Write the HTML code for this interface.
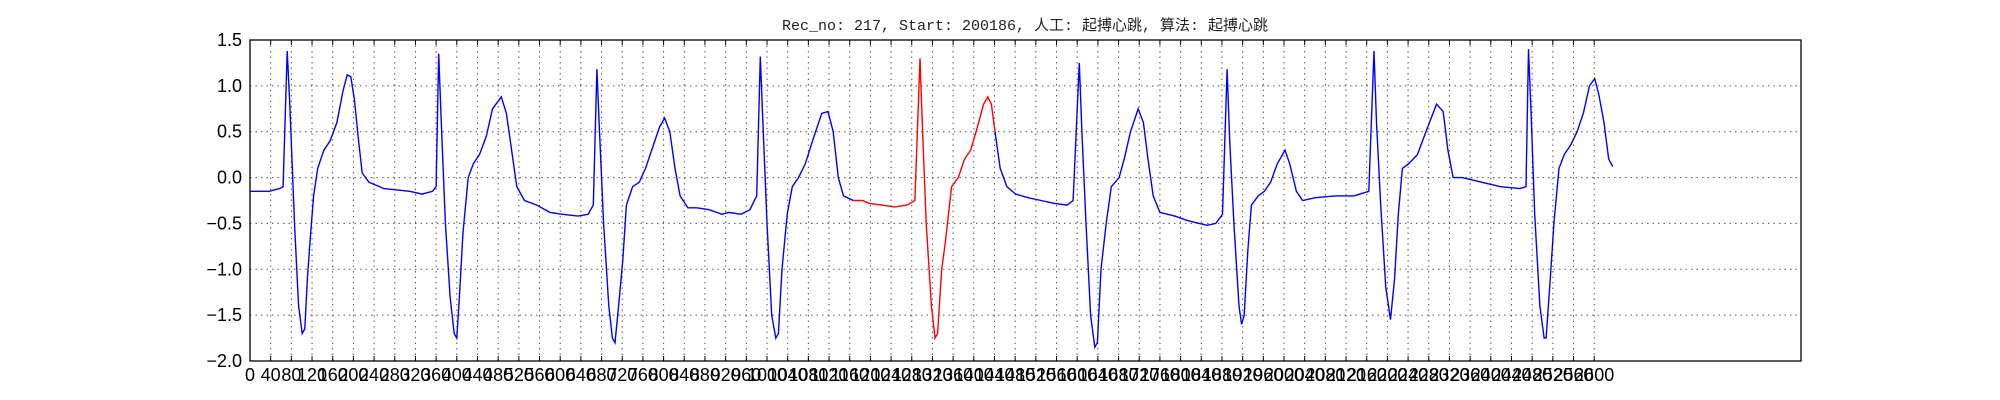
<!DOCTYPE html>
<html><head><meta charset="utf-8"><style>
html,body{margin:0;padding:0;background:#fff;}
svg{display:block;}
</style></head><body>
<svg id="chart" width="2000" height="400" xmlns="http://www.w3.org/2000/svg">
<text x="1025" y="30" text-anchor="middle" font-family="'Liberation Mono','Noto Sans CJK SC',monospace" font-size="15" fill="#222">Rec_no: 217, Start: 200186, 人工: 起搏心跳, 算法: 起搏心跳</text>
<g id="grid"></g>
<g id="series"></g>
<rect x="250" y="40" width="1551" height="321" fill="none" stroke="#000" stroke-width="1.3"/>
<g id="ticks"></g>
</svg>
<script>
const xTicks = Array.from({length:66}, (_, i) => i*40);
const yTicks = [1.5, 1.0, 0.5, 0.0, -0.5, -1.0, -1.5, -2.0];
const yTickLabels = ["1.5","1.0","0.5","0.0","\u22120.5","\u22121.0","\u22121.5","\u22122.0"];
const pos = [195,210,218,221,224,226,230,233,236,238,240,242,245,248,253,258,263,268,271,274,277,280,283,288,300,320,330,338,341,343,345,348,352,355,357,359,362,366,370,375,380,385,392,396,400,404,410,420,430,440,452,460,464,467,469,472,476,479,481,484,487,490,495,500,505,510,516,520,524,528,532,538,545,555,565,570,580,587,592,595,597,600,604,607,609,612,616,620,625,630,636,643,648,652,656,660,668,675,680,690,700,710,716,720,722,725,729,732,734,737,740,745,750,755,760,765,770,773,776,779,783,788,795,805,815,825,835,840,845,847,850,854,857,859,862,866,870,876,880,885,891,895,899,903,908,920,930,945,952,957,961,963,966,970,972,974,977,980,985,990,995,1000,1006,1010,1015,1020,1030,1045,1060,1072,1076,1078,1081,1085,1089,1092,1095,1098,1103,1110,1118,1125,1130,1134,1138,1145,1160,1175,1190,1195,1197,1199,1202,1206,1209,1211,1214,1217,1221,1225,1230,1235,1240,1245,1249,1252,1256,1260,1263];
const samples = pos.map(p => Math.round((p-195)*2.468));
const values = [-0.15,-0.15,-0.12,-0.1,1.38,0.8,-0.5,-1.4,-1.7,-1.65,-1.1,-0.7,-0.2,0.1,0.3,0.4,0.6,0.95,1.12,1.1,0.85,0.4,0.05,-0.05,-0.12,-0.15,-0.18,-0.15,-0.1,1.35,0.6,-0.5,-1.3,-1.7,-1.75,-1.3,-0.6,0.0,0.15,0.25,0.45,0.75,0.88,0.7,0.3,-0.1,-0.25,-0.3,-0.38,-0.4,-0.42,-0.4,-0.3,1.18,0.5,-0.5,-1.4,-1.75,-1.8,-1.4,-0.9,-0.3,-0.1,-0.05,0.1,0.3,0.55,0.65,0.5,0.1,-0.2,-0.33,-0.33,-0.35,-0.4,-0.38,-0.4,-0.35,-0.2,1.32,0.6,-0.5,-1.5,-1.75,-1.7,-1.0,-0.4,-0.1,0.0,0.15,0.4,0.7,0.72,0.5,0.0,-0.2,-0.25,-0.25,-0.28,-0.3,-0.32,-0.3,-0.25,1.3,0.5,-0.5,-1.4,-1.75,-1.7,-1.0,-0.7,-0.1,0.0,0.2,0.3,0.55,0.8,0.88,0.8,0.5,0.1,-0.1,-0.18,-0.22,-0.25,-0.28,-0.3,-0.25,1.25,0.5,-0.5,-1.5,-1.85,-1.8,-1.0,-0.5,-0.1,0.0,0.2,0.5,0.75,0.6,0.2,-0.2,-0.38,-0.42,-0.47,-0.52,-0.5,-0.4,1.18,0.4,-0.5,-1.4,-1.6,-1.5,-0.8,-0.3,-0.2,-0.15,-0.05,0.15,0.3,0.15,-0.15,-0.25,-0.22,-0.2,-0.2,-0.15,1.38,0.6,-0.3,-1.2,-1.55,-1.1,-0.4,0.1,0.15,0.25,0.55,0.8,0.72,0.3,0.0,0.0,-0.05,-0.1,-0.12,-0.1,1.4,0.7,-0.4,-1.4,-1.75,-1.75,-1.1,-0.5,0.1,0.25,0.35,0.5,0.7,1.0,1.08,0.9,0.6,0.2,0.12];
const redStart = 1167, redEnd = 1441;

const NS = "http://www.w3.org/2000/svg";
const X0=250, X1=1801, Y0=40, Y1=361, XMAX=3000, YMIN=-2, YMAX=1.5;
const xs = s => X0 + s/XMAX*(X1-X0);
const ys = v => Y0 + (YMAX-v)/(YMAX-YMIN)*(Y1-Y0);
const grid = document.getElementById('grid'), ticks = document.getElementById('ticks'), series = document.getElementById('series');

xTicks.forEach(t => {
  const x = xs(t);
  const g = document.createElementNS(NS,'line');
  
  
  g.setAttribute('x1',x);g.setAttribute('x2',x);g.setAttribute('y1',Y0);g.setAttribute('y2',Y1);
  g.setAttribute('stroke','#555');g.setAttribute('stroke-dasharray','1.5,4');g.setAttribute('stroke-width','1');
  grid.appendChild(g);
  const tk = document.createElementNS(NS,'line');
  
  
  tk.setAttribute('x1',x);tk.setAttribute('x2',x);tk.setAttribute('y1',Y1);tk.setAttribute('y2',Y1-5);tk.setAttribute('stroke','#000');
  ticks.appendChild(tk);
  const tk2 = document.createElementNS(NS,'line');
  
  
  tk2.setAttribute('x1',x);tk2.setAttribute('x2',x);tk2.setAttribute('y1',Y0);tk2.setAttribute('y2',Y0+5);tk2.setAttribute('stroke','#000');
  ticks.appendChild(tk2);
  const tx = document.createElementNS(NS,'text');
  
  
  tx.setAttribute('x',x);tx.setAttribute('y',Y1+20);tx.setAttribute('text-anchor','middle');
  tx.setAttribute('font-family','Liberation Sans, DejaVu Sans, sans-serif');tx.setAttribute('font-size','18');
  tx.textContent = t;
  ticks.appendChild(tx);
});
yTicks.forEach((t,i) => {
  const y = ys(t);
  const g = document.createElementNS(NS,'line');
  
  
  g.setAttribute('x1',X0);g.setAttribute('x2',X1);g.setAttribute('y1',y);g.setAttribute('y2',y);
  g.setAttribute('stroke','#555');g.setAttribute('stroke-dasharray','1.5,4');
  grid.appendChild(g);
  const tx = document.createElementNS(NS,'text');
  
  
  tx.setAttribute('x',X0-8);tx.setAttribute('y',y+6);tx.setAttribute('text-anchor','end');
  tx.setAttribute('font-family','Liberation Sans, DejaVu Sans, sans-serif');tx.setAttribute('font-size','18');
  tx.textContent = yTickLabels[i];
  ticks.appendChild(tx);
});
function poly(filter, color, name){
  const pts = [];
  samples.forEach((s,i) => { if (filter(s)) pts.push(xs(s).toFixed(1)+','+ys(values[i]).toFixed(1)); });
  const p = document.createElementNS(NS,'polyline');
  
  
  p.setAttribute('points',pts.join(' '));p.setAttribute('fill','none');p.setAttribute('stroke',color);p.setAttribute('stroke-width','1.4');
  series.appendChild(p);
}
poly(s => s <= redStart, '#0000ff', 'ecg-line-before');
poly(s => s >= redStart && s <= redEnd, '#ff0000', 'ecg-line-highlight');
poly(s => s >= redEnd, '#0000ff', 'ecg-line-after');
</script>
</body></html>
